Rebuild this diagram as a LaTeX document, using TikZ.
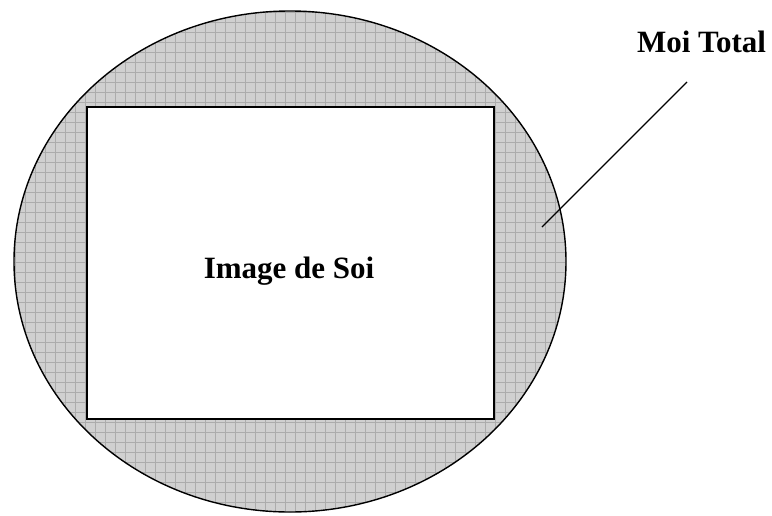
\documentclass[tikz,border=0pt]{standalone}
\usepackage{fontspec}
\setmainfont{Liberation Serif}
\usetikzlibrary{shapes.geometric}
\definecolor{patfill}{RGB}{208,208,208}
\definecolor{patline}{RGB}{172,172,172}
\begin{document}
\begin{tikzpicture}[x=1pt,y=-1pt,
  lbl/.style={font=\fontsize{31}{36}\selectfont\bfseries, inner sep=0},
  gridline/.style={patline, line width=0.5pt}]
\useasboundingbox (0,0) rectangle (772,515);
% outer ellipse (Moi Total)
\node[ellipse, minimum width=552pt, minimum height=501pt, inner sep=0, fill=patfill] (moi) at (290,261.5) {};
\begin{scope}
  \clip (290,261.5) ellipse [x radius=276, y radius=250.5];
  \foreach \x in {15,25,...,575} \draw[gridline] (\x,0) -- (\x,515);
  \foreach \y in {2,12,...,512} \draw[gridline] (0,\y) -- (772,\y);
\end{scope}
\draw[line width=1.4pt] (moi.center) ellipse [x radius=276, y radius=250.5];
% inner rectangle (Image de Soi)
\node[draw, fill=white, line width=2pt, minimum width=407pt, minimum height=312pt, inner sep=0] (img) at (290.5,263) {};
\node[lbl, anchor=base] (imgtxt) at (289,278) {Image de Soi};
% label Moi Total
\node[lbl, anchor=base] (moitxt) at (701.5,52) {Moi Total};
\coordinate (lineTop) at (687,82);
\coordinate (lineEnd) at (542,227);
\draw[line width=1.2pt] (lineTop) -- (lineEnd);
\end{tikzpicture}
\end{document}
